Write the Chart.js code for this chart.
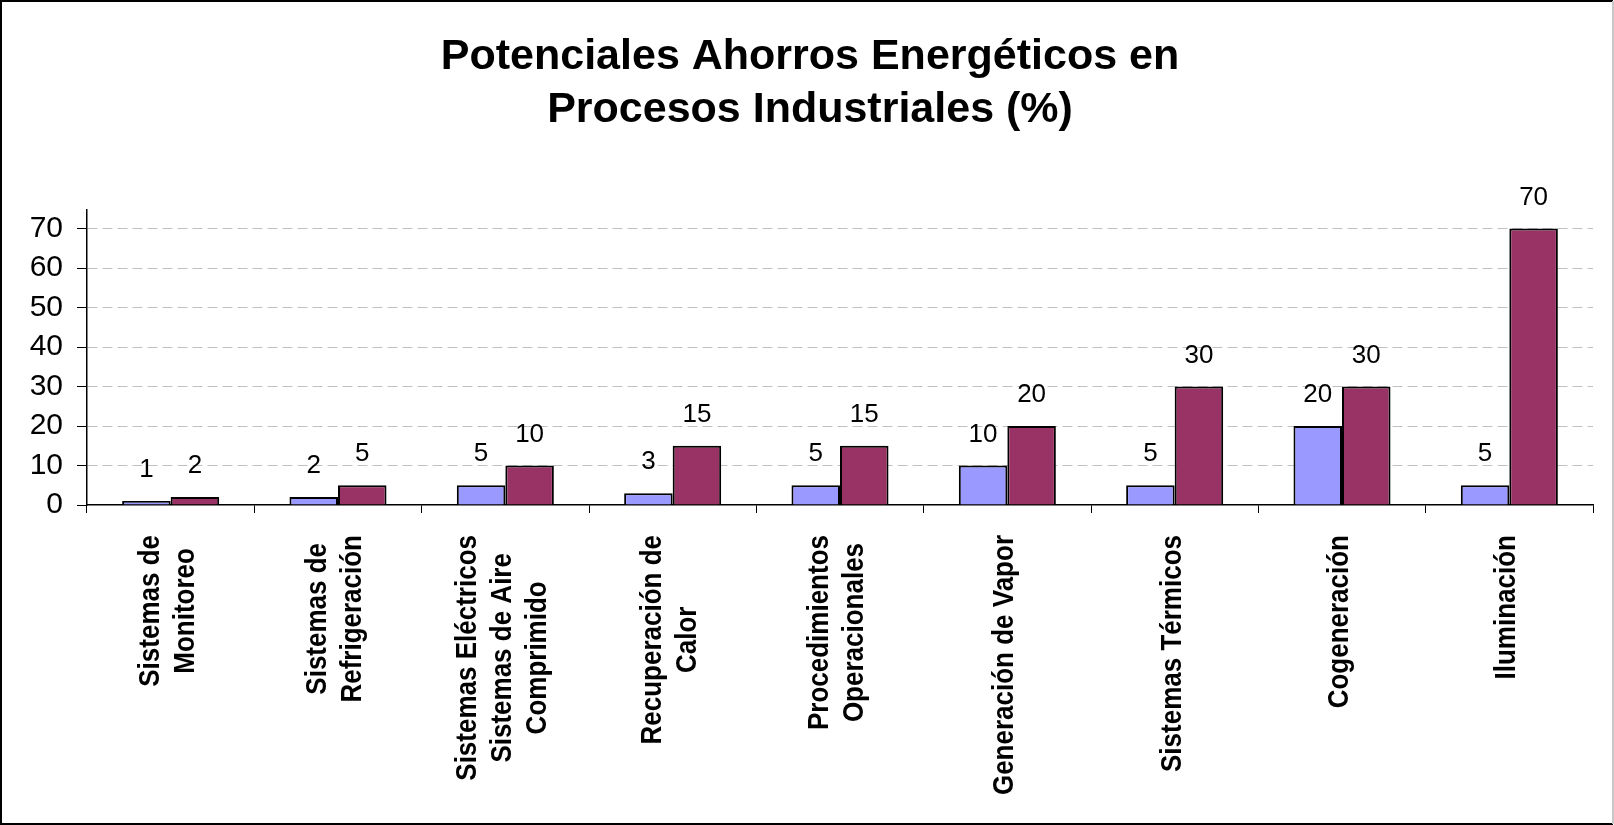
<!DOCTYPE html>
<html>
<head>
<meta charset="utf-8">
<script src="https://cdn.jsdelivr.net/npm/chart.js@4.4.1/dist/chart.umd.min.js"></script>
<style>
  html, body { margin: 0; padding: 0; background: #fff; }
  #wrap { width: 1614px; height: 825px; }
</style>
</head>
<body>
<div id="wrap"><canvas id="c" width="1614" height="825"></canvas></div>
<script>
const titleLines = ["Potenciales Ahorros Energéticos en", "Procesos Industriales (%)"];
const categories = [
  "Sistemas de\nMonitoreo",
  "Sistemas de\nRefrigeración",
  "Sistemas Eléctricos\nSistemas de Aire\nComprimido",
  "Recuperación de\nCalor",
  "Procedimientos\nOperacionales",
  "Generación de Vapor",
  "Sistemas Térmicos",
  "Cogeneración",
  "Iluminación"
];
const seriesMin = [1, 2, 5, 3, 5, 10, 5, 20, 5];
const seriesMax = [2, 5, 10, 15, 15, 20, 30, 30, 70];
const yTicks = [0, 10, 20, 30, 40, 50, 60, 70];
const yMax = 74.7;

const frame = {
  id: 'frame',
  afterDraw(chart) {
    const ctx = chart.ctx;
    const w = chart.width, h = chart.height;
    ctx.save();
    ctx.lineWidth = 2;
    ctx.strokeStyle = '#000';
    ctx.beginPath();
    ctx.moveTo(w - 1, 1); ctx.lineTo(1, 1); ctx.lineTo(1, h - 1); ctx.lineTo(w - 1, h - 1);
    ctx.stroke();
    ctx.strokeStyle = '#c8c8c8';
    ctx.beginPath();
    ctx.moveTo(w - 1, 1); ctx.lineTo(w - 1, h - 1);
    ctx.stroke();
    ctx.restore();
  }
};

const titleText = {
  id: 'titleText',
  afterDraw(chart) {
    const ctx = chart.ctx;
    ctx.save();
    ctx.font = 'bold 43px "Liberation Sans", Arial, sans-serif';
    ctx.fillStyle = '#000';
    ctx.textAlign = 'center';
    ctx.textBaseline = 'middle';
    titleLines.forEach((l, i) => ctx.fillText(l, 810, 57 + i * 53));
    ctx.restore();
  }
};

const valueLabels = {
  id: 'valueLabels',
  afterDatasetsDraw(chart) {
    const ctx = chart.ctx;
    ctx.save();
    ctx.font = '26px "Liberation Sans", Arial, sans-serif';
    ctx.fillStyle = '#000';
    ctx.textAlign = 'center';
    ctx.textBaseline = 'middle';
    chart.data.datasets.forEach((ds, di) => {
      const meta = chart.getDatasetMeta(di);
      meta.data.forEach((bar, i) => {
        ctx.fillText(String(ds.data[i]), bar.x, bar.y - 31);
      });
    });
    ctx.restore();
  }
};

const catLabels = {
  id: 'catLabels',
  afterDraw(chart) {
    const ctx = chart.ctx;
    const xs = chart.scales.x;
    ctx.save();
    ctx.font = 'bold 26px "Liberation Sans", Arial, sans-serif';
    ctx.fillStyle = '#000';
    ctx.textAlign = 'center';
    ctx.textBaseline = 'middle';
    const top = xs.top + 30;
    const spacing = 35;
    categories.forEach((lab, i) => {
      const lines = lab.split('\n');
      const maxW = Math.max(...lines.map(l => ctx.measureText(l).width));
      const cx = xs.getPixelForValue(i) - 2;
      const cy = top + maxW / 2;
      lines.forEach((l, j) => {
        const x = cx + (j - (lines.length - 1) / 2) * spacing;
        ctx.save();
        ctx.translate(x, cy);
        ctx.rotate(-Math.PI / 2);
        ctx.scale(1, 1.1);
        ctx.fillText(l, 0, 0);
        ctx.restore();
      });
    });
    ctx.restore();
  }
};

new Chart(document.getElementById('c'), {
  type: 'bar',
  data: {
    labels: categories,
    datasets: [
      { label: 'Mínimo', data: seriesMin, backgroundColor: '#9999FF', borderColor: '#000', borderWidth: 2, borderSkipped: 'bottom' },
      { label: 'Máximo', data: seriesMax, backgroundColor: '#993366', borderColor: '#000', borderWidth: 2, borderSkipped: 'bottom' }
    ]
  },
  options: {
    responsive: false,
    devicePixelRatio: 1,
    animation: false,
    events: [],
    layout: { padding: { left: 0, right: 21, top: 210, bottom: 0 } },
    datasets: { bar: { categoryPercentage: 0.58, barPercentage: 1.0 } },
    plugins: {
      legend: { display: false },
      tooltip: { enabled: false },
      title: { display: false }
    },
    scales: {
      x: {
        offset: true,
        grid: { offset: true, drawOnChartArea: false, drawTicks: true, tickLength: 8, tickColor: '#000', tickWidth: 1 },
        border: { display: true, color: '#000', width: 1.5 },
        ticks: { display: false },
        afterFit(s) { s.height = 320; }
      },
      y: {
        min: 0,
        max: yMax,
        afterBuildTicks(s) { s.ticks = yTicks.map(v => ({ value: v })); },
        grid: {
          color: ctx => (ctx.tick && ctx.tick.value === 0) ? 'rgba(0,0,0,0)' : '#c0c0c0',
          lineWidth: 1,
          drawTicks: true,
          tickLength: 10,
          tickColor: '#000',
          tickWidth: 1,
          tickBorderDash: []
        },
        border: { display: true, color: '#000', width: 1.5, dash: [10, 5] },
        ticks: {
          color: '#000',
          padding: 14,
          font: { family: '"Liberation Sans", Arial, sans-serif', size: 30 },
          callback: v => String(v)
        },
        afterFit(s) { s.width = 87; }
      }
    }
  },
  plugins: [titleText, valueLabels, catLabels, frame]
});
</script>
</body>
</html>
